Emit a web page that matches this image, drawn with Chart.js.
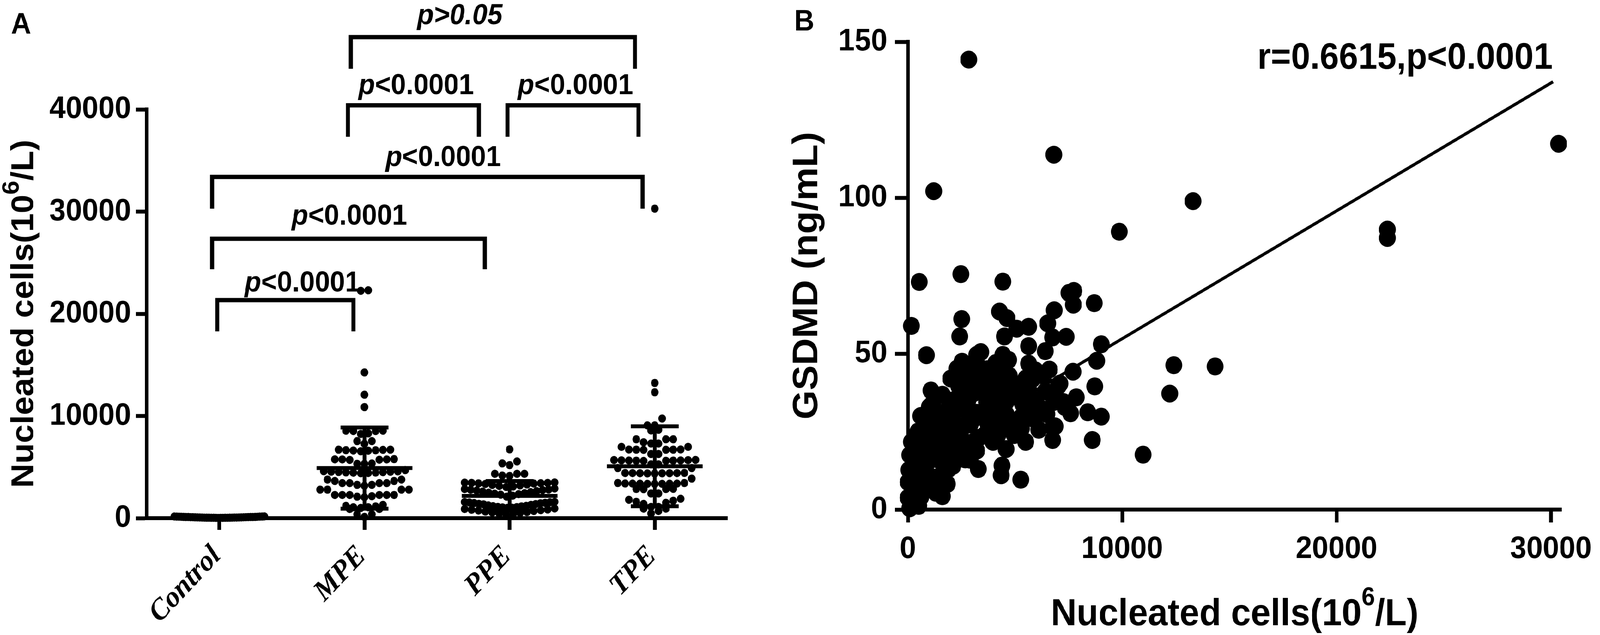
<!DOCTYPE html>
<html><head><meta charset="utf-8">
<script src="https://cdn.jsdelivr.net/npm/chart.js"></script>
<style>
html,body{margin:0;padding:0;background:#fff;overflow:hidden;}
#page{position:absolute;left:0;top:0;width:4360px;height:1625px;transform-origin:0 0;background:#fff;}
#wrapA{position:absolute;left:0;top:0;width:2150px;height:1625px;}
#wrapB{position:absolute;left:2150px;top:0;width:2210px;height:1625px;}
canvas{display:block;}
</style></head><body>
<div id="page">
<div id="wrapA"><canvas id="chartA" width="2150" height="1625" style="width:2150px;height:1625px"></canvas></div>
<div id="wrapB"><canvas id="chartB" width="2210" height="1625" style="width:2210px;height:1625px"></canvas></div>
</div>
<script>
// ---------------- Panel A data ----------------
const categories = ['Control', 'MPE', 'PPE', 'TPE'];
const yTicksA = [0, 10000, 20000, 30000, 40000];

const controlValues = [60, 40, 90, 120, 30, 150, 50, 110, 45, 170, 80, 35, 130, 100, 55, 20, 160, 70, 115, 42,
  140, 105, 48, 125, 32, 165, 65, 95, 38, 135, 52, 112, 85, 25, 155, 58, 118, 75, 98, 44];

const mpeValues = [22300, 22250, 14260, 12080, 10870,
  8530, 8240, 8560, 8560, 8300, 8530,
  7540, 7540, 7280,
  6700, 6650, 6600, 6680, 6620, 6700, 6640, 6550,
  5750, 5750, 5700, 5780, 5720, 5760, 5320, 5320, 5350,
  4400, 4450, 4500, 4550, 4600, 4480, 4520, 4420, 4580, 4460, 4540, 4700,
  3780, 3780, 3640, 3640, 3430, 3430, 3430, 3430, 3260, 3260, 3170,
  2790, 2790, 2790, 2790, 2270, 2270, 2270, 2270, 2270, 2270, 2100, 2050, 2150,
  1070, 1070, 900, 900, 1200, 1300, 1150, 1000,
  380, 380, 120];

const ppeValues = [6730,
  5550, 5360, 5190,
  4340, 4340, 4340, 4130, 4170,
  3500, 3450, 3400, 3450, 3380, 3300, 3350, 3250, 3200, 3150, 3100, 3050, 3420, 3480,
  2900, 2850, 2800, 2780, 2750, 2700, 2650, 2600, 2550, 2500, 2450, 2400, 2350, 2300, 2200, 2100,
  1600, 1580, 1560, 1540, 1500, 1480, 1450, 1400, 1380, 1350, 1300, 1250, 1200, 1180, 1150, 1100, 1080, 1050, 1020, 1000,
  950, 900, 850, 820, 780, 750, 700, 650, 600, 550, 500, 450, 400, 350];

const tpeValues = [30290, 13230, 12320,
  9750, 9080, 9080,
  8580, 8650,
  7720, 7720, 7720, 7430, 7300, 7300,
  6980, 6980, 6700, 6720, 6680, 6710, 6690, 6700, 6280, 6280,
  5650, 5620, 5680, 5600, 5700, 5640, 5660, 5610, 5690, 5630, 5270, 5270,
  4900, 4900, 4400, 4420, 4380, 4410, 4390, 4430, 4370, 4400, 4410,
  3870, 3440, 3440, 3370, 3380, 3360, 3350, 3390, 3370, 3360, 3380,
  2850, 2860, 2840, 2870, 2420, 2420,
  1100, 1100, 1400, 1500, 1600, 1700, 1800, 1900,
  930, 930, 700, 460];

const groupMeans = [95, 4900, 2180, 5080];
const groupSDs = [45, 3970, 1450, 3910];

// significance brackets (x in category index units, y in data units)
const bracketStart = [-0.015, -0.05, -0.05, 0.886, 1.985, 0.906];
const bracketEnd = [0.924, 1.829, 2.916, 1.788, 2.888, 2.863];
const bracketTop = [21340, 27340, 33390, 40400, 40400, 47070];
const bracketFoot = [18280, 24360, 30290, 37320, 37320, 43980];
const bracketLabels = ['p<0.0001', 'p<0.0001', 'p<0.0001', 'p<0.0001', 'p<0.0001', 'p>0.05'];
const bracketLabelX = [0.572, 0.896, 1.543, 1.356, 2.453, 1.657];
const bracketLabelY = [22180, 28720, 34455, 41490, 41490, 48340];

// axis title pieces: main text, superscript, tail
const cellsTitle = ['Nucleated cells(10', '6', '/L)'];
const gsdmdTitle = 'GSDMD (ng/mL)';

// ---------------- Panel B data ----------------
const xTicksB = [0, 10000, 20000, 30000];
const yTicksB = [0, 50, 100, 150];
const cellsB = [529, 2471, 4429, 163, 2510, 2418, 864, 4277, 4620, 4505, 5077, 5633, 5633, 7743, 7514, 7720, 6829, 8695, 6524, 6752,
  7385, 6410, 9023, 8810, 7705, 6600, 8718, 7857, 7590, 8391, 9023, 8604, 6752, 6752, 7095, 5496, 5267, 4353, 4391, 3287,
  4582, 4429, 4391, 4429, 5633, 5633, 5633, 5648, 3401, 3210, 2525, 2296, 3424, 2372, 3515, 1077, 1610, 1154, 734, 3667,
  3744, 2449, 1763, 1839, 1610, 163, 87, 49, 11, 10, 506, 87, 1306, 1001, 1534, 2068, 2829, 1763, 2449, 3058,
  3820, 468, 772, 4887, 5039, 5953, 6105, 6410, 6867, 6105, 4582, 4048, 2906, 2220, 1534, 1230, 772, 1306, 392, 316,
  772, 2677, 3210, 3972, 2677, 1915, 1001, 3515, 3058, 2677, 2296, 3515, 3210, 2144, 5343, 5267, 4963, 4201, 240, 544,
  1077, 1534, 1991, 1382, 6486, 6791, 5800, 5953, 6334, 7019, 7247, 7324, 4582, 4734, 3820, 4125,
  2841, 6810, 1205, 13304, 9863, 22372, 22372, 30360, 12406, 14334, 12218, 10973,
  600, 900, 1300, 1700, 2000, 2400, 2800, 3200, 3600, 4000, 4400, 5300, 5900, 500, 900, 1300, 1700, 2100, 2500, 2900,
  3300, 300, 600, 1200, 1500, 1900, 250, 700, 2000, 2600, 3000, 3700, 4100, 4700, 4200, 4900, 5500];
const gsdmdB = [73.0, 75.5, 73.1, 58.9, 61.1, 55.5, 49.5, 63.5, 61.4, 55.5, 58.0, 58.6, 52.4, 70.1, 69.5, 65.7, 63.9, 66.2, 59.7, 55.2,
  55.4, 50.8, 53.0, 47.7, 44.2, 44.9, 39.5, 36.0, 30.9, 31.2, 29.8, 22.3, 22.3, 26.4, 40.4, 21.7, 9.6, 11.0, 14.1, 13.0,
  19.4, 49.6, 44.6, 38.4, 46.8, 38.4, 32.9, 29.5, 50.5, 49.6, 47.4, 45.2, 45.2, 39.6, 39.6, 38.2, 36.8, 34.0, 29.2, 34.5,
  27.3, 17.2, 13.0, 8.2, 4.3, 21.7, 17.5, 12.7, 8.8, 3.8, 1.2, 0.4, 5.4, 18.9, 23.9, 29.5, 30.6, 20.0, 24.5, 21.7,
  25.6, 25.0, 12.7, 27.3, 36.8, 35.1, 32.9, 37.9, 26.7, 25.6, 30.6, 31.2, 27.3, 27.3, 30.1, 27.3, 21.7, 17.8, 16.1, 8.8,
  7.7, 32.9, 18.9, 21.7, 16.1, 32.9, 32.9, 30.1, 37.3, 37.3, 42.9, 44.0, 40.7, 35.1, 34.0, 29.5, 23.9, 23.9, 14.4, 10.5,
  10.5, 11.0, 20.0, 16.1, 30.6, 34.5, 41.8, 44.6, 42.9, 39.6, 34.5, 32.9, 34.5, 42.9, 37.3, 40.7,
  144.3, 113.8, 102.1, 98.9, 89.1, 89.8, 87.1, 117.3, 46.3, 45.9, 37.2, 17.6,
  30, 26, 31, 28, 24, 33, 35, 31, 24, 28, 26, 26, 29, 20, 15, 22, 17, 14, 20, 16,
  23, 5, 4, 8, 8, 13, 12, 17, 42, 42, 45, 45, 47, 48, 35, 40, 42];
const fitLineX = [0, 30100];
const fitLineY = [13.8, 137.2];
const correlationText = 'r=0.6615,p<0.0001';

// ---------------- page scaling: design size 4360x1625 fitted to the viewport ----------------
const DESIGN_W = 4360, DESIGN_H = 1625;
(function fitPage() {
  const sx = (window.innerWidth || DESIGN_W) / DESIGN_W;
  const sy = (window.innerHeight || DESIGN_H) / DESIGN_H;
  document.getElementById('page').style.transform = 'scale(' + sx + ',' + sy + ')';
})();

// ---------------- styling / layout constants ----------------
const SANS = '"Liberation Sans", Arial, Helvetica, sans-serif';
const SERIF = '"Liberation Serif", "Times New Roman", serif';
Chart.defaults.font.family = SANS;
Chart.defaults.font.weight = 'bold';
Chart.defaults.color = '#000';

const BIN = 1000;          // value bin for the dot rows
const DOT_STEP = 0.051;    // horizontal spacing between dots (category units)
const MAX_HALF = 0.31;     // max half-width of a dot row
const MEAN_HALF = 0.33;
const CAP_HALF = 0.165;

function swarm(values, center) {
  const bins = new Map();
  values.forEach(v => {
    const b = Math.floor(v / BIN);
    if (!bins.has(b)) bins.set(b, []);
    bins.get(b).push(v);
  });
  const pts = [];
  bins.forEach(arr => {
    arr.sort((a, c) => a - c);
    const n = arr.length;
    const sp = n > 1 ? Math.min(DOT_STEP, (2 * MAX_HALF) / (n - 1)) : 0;
    const slots = [];
    for (let k = 0; k < n; k++) slots.push((k - (n - 1) / 2) * sp);
    slots.sort((a, c) => (Math.abs(a) - Math.abs(c)) || (a - c));
    arr.forEach((v, i) => pts.push({ x: center + slots[i], y: v }));
  });
  return pts;
}

const groups = [controlValues, mpeValues, ppeValues, tpeValues];

// text with a superscript piece, centred on (cx, baseline) – optionally rotated
function drawSupText(ctx, pieces, size, supScale, supRise, cx, baseline, rotation) {
  ctx.save();
  ctx.translate(cx, baseline);
  if (rotation) ctx.rotate(rotation);
  ctx.fillStyle = '#000';
  ctx.textAlign = 'left';
  ctx.textBaseline = 'alphabetic';
  const fonts = ['bold ' + size + 'px ' + SANS, 'bold ' + Math.round(size * supScale) + 'px ' + SANS, 'bold ' + size + 'px ' + SANS];
  const rises = [0, size * supRise, 0];
  let total = 0;
  pieces.forEach((p, i) => { ctx.font = fonts[i]; total += ctx.measureText(p).width; });
  let x = -total / 2;
  pieces.forEach((p, i) => { ctx.font = fonts[i]; ctx.fillText(p, x, -rises[i]); x += ctx.measureText(p).width; });
  ctx.restore();
}

const panelLabel = (txt, x, y) => ({
  id: 'panelLabel' + txt,
  afterDraw(chart) {
    const ctx = chart.ctx;
    ctx.save();
    ctx.fillStyle = '#000';
    ctx.font = 'bold 76px ' + SANS;
    ctx.textBaseline = 'alphabetic';
    ctx.textAlign = 'left';
    ctx.fillText(txt, x, y);
    ctx.restore();
  }
});

const meanSDPlugin = {
  id: 'meanSD',
  afterDatasetsDraw(chart) {
    const xs = chart.scales.x, ys = chart.scales.y, ctx = chart.ctx;
    ctx.save();
    ctx.strokeStyle = '#000';
    ctx.lineWidth = 10;
    ctx.lineCap = 'butt';
    const h = (x1, x2, y) => { ctx.beginPath(); ctx.moveTo(xs.getPixelForValue(x1), ys.getPixelForValue(y)); ctx.lineTo(xs.getPixelForValue(x2), ys.getPixelForValue(y)); ctx.stroke(); };
    const v = (x, y1, y2) => { ctx.beginPath(); ctx.moveTo(xs.getPixelForValue(x), ys.getPixelForValue(y1)); ctx.lineTo(xs.getPixelForValue(x), ys.getPixelForValue(y2)); ctx.stroke(); };
    groupMeans.forEach((m, i) => {
      const s = groupSDs[i];
      const lo = Math.max(0, m - s);
      v(i, lo, m + s);
      h(i - MEAN_HALF, i + MEAN_HALF, m);
      h(i - CAP_HALF, i + CAP_HALF, m + s);
      h(i - CAP_HALF, i + CAP_HALF, lo);
    });
    ctx.restore();
  }
};

const bracketPlugin = {
  id: 'brackets',
  afterDraw(chart) {
    const xs = chart.scales.x, ys = chart.scales.y, ctx = chart.ctx;
    ctx.save();
    ctx.strokeStyle = '#000';
    ctx.lineWidth = 11;
    ctx.lineJoin = 'miter';
    ctx.lineCap = 'butt';
    bracketStart.forEach((s, i) => {
      const x1 = xs.getPixelForValue(s), x2 = xs.getPixelForValue(bracketEnd[i]);
      const yt = ys.getPixelForValue(bracketTop[i]), yf = ys.getPixelForValue(bracketFoot[i]);
      ctx.beginPath();
      ctx.moveTo(x1, yf); ctx.lineTo(x1, yt); ctx.lineTo(x2, yt); ctx.lineTo(x2, yf);
      ctx.stroke();
    });
    ctx.fillStyle = '#000';
    ctx.textBaseline = 'alphabetic';
    ctx.textAlign = 'left';
    const upright = 'bold 74px ' + SANS, italic = 'italic bold 74px ' + SANS;
    bracketLabels.forEach((lab, i) => {
      const allItalic = lab.indexOf('>') >= 0;
      const parts = allItalic ? [[lab, italic]] : [[lab.slice(0, 1), italic], [lab.slice(1), upright]];
      let total = 0;
      parts.forEach(p => { ctx.font = p[1]; total += ctx.measureText(p[0]).width; });
      let x = xs.getPixelForValue(bracketLabelX[i]) - total / 2;
      const y = ys.getPixelForValue(bracketLabelY[i]);
      parts.forEach(p => { ctx.font = p[1]; ctx.fillText(p[0], x, y); x += ctx.measureText(p[0]).width; });
    });
    ctx.restore();
  }
};

const titleAPlugin = {
  id: 'titleA',
  afterDraw(chart) {
    const a = chart.chartArea;
    drawSupText(chart.ctx, cellsTitle, 86, 0.74, 0.45, 90, (a.top + a.bottom) / 2, -Math.PI / 2);
  }
};

const titleBPlugin = {
  id: 'titleB',
  afterDraw(chart) {
    const a = chart.chartArea;
    drawSupText(chart.ctx, cellsTitle, 97, 0.68, 0.53, (a.left + a.right) / 2, a.bottom + 296, 0);
  }
};

const corrPlugin = {
  id: 'corrText',
  afterDraw(chart) {
    const ctx = chart.ctx, a = chart.chartArea;
    ctx.save();
    ctx.fillStyle = '#000';
    ctx.font = 'bold 94px ' + SANS;
    ctx.textAlign = 'right';
    ctx.textBaseline = 'alphabetic';
    ctx.fillText(correlationText, a.right - 24, a.top + 69);
    ctx.restore();
  }
};

const axisGrid = (len) => ({ drawOnChartArea: false, drawTicks: true, tickLength: len, tickWidth: 10, tickColor: '#000', color: '#000' });
const axisBorder = { display: true, width: 10, color: '#000' };

// ---------------- Chart A ----------------
new Chart(document.getElementById('chartA'), {
  type: 'scatter',
  data: {
    datasets: groups.map((g, i) => ({
      data: swarm(g, i),
      pointRadius: 10.5,
      pointHoverRadius: 10.5,
      backgroundColor: '#000',
      borderColor: '#000',
      borderWidth: 0,
      clip: false
    }))
  },
  options: {
    responsive: false,
    animation: false,
    devicePixelRatio: 1,
    layout: { padding: { top: 280, right: 168, bottom: 0, left: 0 } },
    plugins: { legend: { display: false }, tooltip: { enabled: false } },
    scales: {
      x: {
        type: 'linear', min: -0.5, max: 3.5,
        afterBuildTicks: s => { s.ticks = categories.map((c, i) => ({ value: i })); },
        afterFit: s => { s.height = 299; },
        ticks: {
          callback: v => categories[Math.round(v)] ?? '',
          minRotation: 45, maxRotation: 45, autoSkip: false,
          font: { family: SERIF, size: 76, style: 'italic', weight: 'bold' },
          color: '#000', padding: 23, labelOffset: -7
        },
        grid: axisGrid(30),
        border: axisBorder
      },
      y: {
        type: 'linear', min: 0, max: 40000,
        afterBuildTicks: s => { s.ticks = yTicksA.map(v => ({ value: v })); },
        afterFit: s => { s.width = 400; },
        ticks: { callback: v => String(v), font: { size: 80, weight: 'bold' }, color: '#000', padding: 13 },
        grid: axisGrid(30),
        border: axisBorder
      }
    }
  },
  plugins: [meanSDPlugin, bracketPlugin, titleAPlugin, panelLabel('A', 30, 86)]
});

// ---------------- Chart B ----------------
new Chart(document.getElementById('chartB'), {
  type: 'scatter',
  data: {
    datasets: [
      {
        data: fitLineX.map((x, i) => ({ x: x, y: fitLineY[i] })),
        showLine: true, pointRadius: 0, borderColor: '#000', borderWidth: 8, clip: false
      },
      {
        data: cellsB.map((x, i) => ({ x: x, y: gsdmdB[i] })),
        pointRadius: 23, pointHoverRadius: 23,
        backgroundColor: '#000', borderColor: '#000', borderWidth: 0, clip: false
      }
    ]
  },
  options: {
    responsive: false,
    animation: false,
    devicePixelRatio: 1,
    layout: { padding: { top: 107, right: 100, bottom: 0, left: 0 } },
    plugins: { legend: { display: false }, tooltip: { enabled: false } },
    scales: {
      x: {
        type: 'linear', min: 0, max: 30500,
        afterBuildTicks: s => { s.ticks = xTicksB.map(v => ({ value: v })); },
        afterFit: s => { s.height = 321; },
        ticks: { callback: v => String(v), font: { size: 80, weight: 'bold' }, color: '#000', padding: 21, maxRotation: 0 },
        grid: axisGrid(33),
        border: axisBorder
      },
      y: {
        type: 'linear', min: 0, max: 150,
        afterBuildTicks: s => { s.ticks = yTicksB.map(v => ({ value: v })); },
        afterFit: s => { s.width = 324; },
        ticks: { callback: v => String(v), font: { size: 80, weight: 'bold' }, color: '#000', padding: 21 },
        grid: axisGrid(35),
        border: axisBorder,
        title: { display: true, text: gsdmdTitle, font: { size: 96, weight: 'bold', lineHeight: 1.05 }, color: '#000', padding: { top: 0, bottom: 0 } }
      }
    }
  },
  plugins: [corrPlugin, titleBPlugin, panelLabel('B', 14, 78)]
});
</script>
</body></html>
